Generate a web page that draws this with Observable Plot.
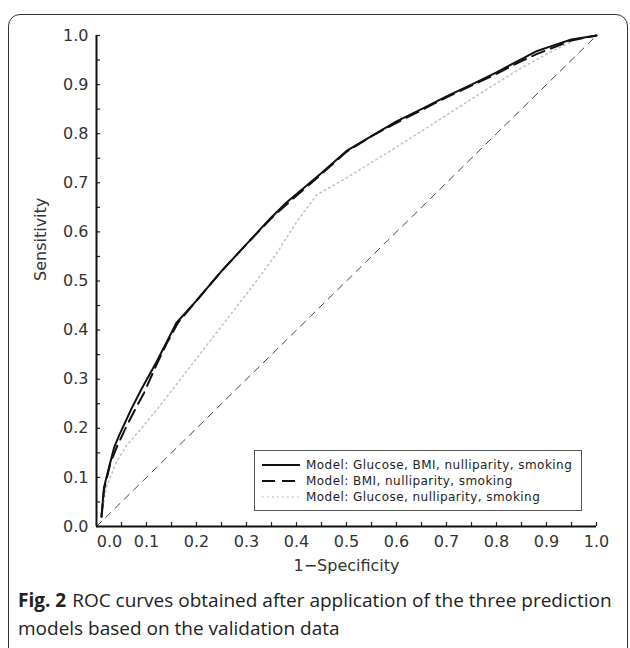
<!DOCTYPE html>
<html><head><meta charset="utf-8">
<script src="https://cdn.jsdelivr.net/npm/d3@7"></script>
<script src="https://cdn.jsdelivr.net/npm/@observablehq/plot@0.6"></script>
<style>
body{margin:0;background:#fff;}
#wrap{position:relative;width:630px;height:648px;overflow:hidden;background:#fff;}
#frame{position:absolute;left:8px;top:14px;width:620px;height:680px;border:1.6px solid #333;border-radius:12px;box-sizing:border-box;}
#chart{position:absolute;left:0;top:0;}
#legend{position:absolute;left:254px;top:450px;}
#caption{position:absolute;left:18px;top:586px;width:608px;font-family:"Open Sans";font-size:19px;line-height:28px;color:#222;}
#caption div{white-space:nowrap;}
#caption .fig{font-weight:bold;margin-right:6px;}
</style></head>
<body>
<div id="wrap">
  <div id="frame"></div>
  <div id="chart"></div>
  <div id="legend"></div>
  <div id="caption">
    <div><span class="fig">Fig. 2</span><span>ROC curves obtained after application of the three prediction</span></div>
    <div>models based on the validation data</div>
  </div>
</div>
<script>
// ---- data ----
const seriesNames = [
  "Model: Glucose, BMI, nulliparity, smoking",
  "Model: BMI, nulliparity, smoking",
  "Model: Glucose, nulliparity, smoking"
];
const modelFull = [[0.01,0.02],[0.015,0.08],[0.025,0.12],[0.035,0.16],[0.045,0.185],[0.07,0.24],[0.09,0.28],[0.12,0.335],[0.16,0.415],[0.2,0.46],[0.25,0.52],[0.3,0.575],[0.35,0.63],[0.38,0.66],[0.45,0.72],[0.5,0.765],[0.55,0.795],[0.6,0.825],[0.65,0.85],[0.7,0.876],[0.75,0.9],[0.8,0.925],[0.85,0.952],[0.88,0.968],[0.92,0.982],[0.95,0.992],[1,1]];
const modelNoGlucose = [[0.01,0.02],[0.015,0.075],[0.028,0.13],[0.042,0.165],[0.058,0.2],[0.078,0.24],[0.095,0.272],[0.118,0.325],[0.14,0.372],[0.163,0.415],[0.2,0.46],[0.25,0.52],[0.3,0.575],[0.35,0.628],[0.38,0.656],[0.45,0.718],[0.5,0.763],[0.55,0.795],[0.6,0.822],[0.65,0.848],[0.7,0.874],[0.75,0.898],[0.8,0.922],[0.85,0.948],[0.88,0.962],[0.92,0.978],[0.95,0.99],[1,1]];
const modelNoBMI = [[0.01,0.02],[0.02,0.08],[0.038,0.128],[0.06,0.165],[0.09,0.2],[0.13,0.25],[0.168,0.3],[0.244,0.4],[0.32,0.5],[0.36,0.556],[0.4,0.62],[0.44,0.675],[0.5,0.71],[0.58,0.76],[0.65,0.805],[0.714,0.847],[0.78,0.89],[0.848,0.933],[0.9,0.962],[0.954,0.99],[1,1]];
const chanceLine = [[0,0],[1,1]];
const tickVals = [0,0.05,0.1,0.15,0.2,0.25,0.3,0.35,0.4,0.45,0.5,0.55,0.6,0.65,0.7,0.75,0.8,0.85,0.9,0.95,1];
const xLabelTicks = [0.1,0.2,0.3,0.4,0.5,0.6,0.7,0.8,0.9,1.0];
const yLabelTicks = [0,0.1,0.2,0.3,0.4,0.5,0.6,0.7,0.8,0.9,1.0];
const xTitle = "1\u2212Specificity";
const yTitle = "Sensitivity";

const fmt = d => d.toFixed(1);
const F = "DejaVu Sans";

const chart = Plot.plot({
  width: 630, height: 585,
  marginLeft: 96, marginRight: 34, marginTop: 35, marginBottom: 59,
  x: {domain: [0, 1]},
  y: {domain: [0, 1]},
  style: {fontFamily: F, background: "transparent", overflow: "visible", color: "#333"},
  marks: [
    Plot.axisX(tickVals, {tickSize: 4, dy: -4, fill: "none", stroke: "#222", strokeWidth: 1.2}),
    Plot.axisY(tickVals, {tickSize: 4, dx: 4, fill: "none", stroke: "#222", strokeWidth: 1.2}),
    Plot.axisX(xLabelTicks, {tickSize: 0, tickPadding: 9, tickFormat: fmt, label: null, fontSize: 16, fontFamily: F, fill: "#333"}),
    Plot.axisX([0], {tickSize: 0, tickPadding: 9, dx: 13, tickFormat: fmt, label: null, fontSize: 16, fontFamily: F, fill: "#333"}),
    Plot.axisY(yLabelTicks, {tickSize: 0, tickPadding: 8, tickFormat: fmt, label: null, fontSize: 16, fontFamily: F, fill: "#333"}),
    Plot.line(chanceLine, {x: d => d[0], y: d => d[1], stroke: "#444", strokeWidth: 1, strokeDasharray: "7,6"}),
    Plot.line(modelNoBMI, {x: d => d[0], y: d => d[1], stroke: "#c4c4c4", strokeWidth: 1.6, strokeDasharray: "1.5,3.5"}),
    Plot.line(modelNoGlucose, {x: d => d[0], y: d => d[1], stroke: "#111", strokeWidth: 2, strokeDasharray: "13,7"}),
    Plot.line(modelFull, {x: d => d[0], y: d => d[1], stroke: "#111", strokeWidth: 2}),
    Plot.ruleY([0], {stroke: "#111", strokeWidth: 2}),
    Plot.ruleX([0], {stroke: "#111", strokeWidth: 2}),
    Plot.text([yTitle], {frameAnchor: "left", dx: -56, rotate: -90, fontSize: 16, fontFamily: F, fill: "#333"}),
    Plot.text([xTitle], {frameAnchor: "bottom", dy: 44, fontSize: 16, fontFamily: F, fill: "#333"})
  ]
});
document.getElementById("chart").appendChild(chart);

// ---- legend ----
const styles = [
  {stroke: "#111", width: 2, dash: null},
  {stroke: "#111", width: 2, dash: "13,7"},
  {stroke: "#c4c4c4", width: 1.6, dash: "1.5,3.5"}
];
const lw = 328, lh = 61;
const svg = d3.select("#legend").append("svg").attr("width", lw).attr("height", lh);
svg.append("rect").attr("x", 0.5).attr("y", 0.5).attr("width", lw - 1).attr("height", lh - 1)
  .attr("fill", "#fff").attr("stroke", "#555").attr("stroke-width", 1);
seriesNames.forEach((name, i) => {
  const y = 15 + i * 16;
  const s = styles[i];
  const ln = svg.append("line").attr("x1", 8).attr("x2", 46).attr("y1", y).attr("y2", y)
    .attr("stroke", s.stroke).attr("stroke-width", s.width);
  if (s.dash) ln.attr("stroke-dasharray", s.dash);
  svg.append("text").attr("x", 52).attr("y", y).attr("dy", "0.35em")
    .attr("font-family", F).attr("font-size", 12).attr("letter-spacing", "0.45px")
    .attr("fill", "#222").text(name);
});
</script>
</body></html>
